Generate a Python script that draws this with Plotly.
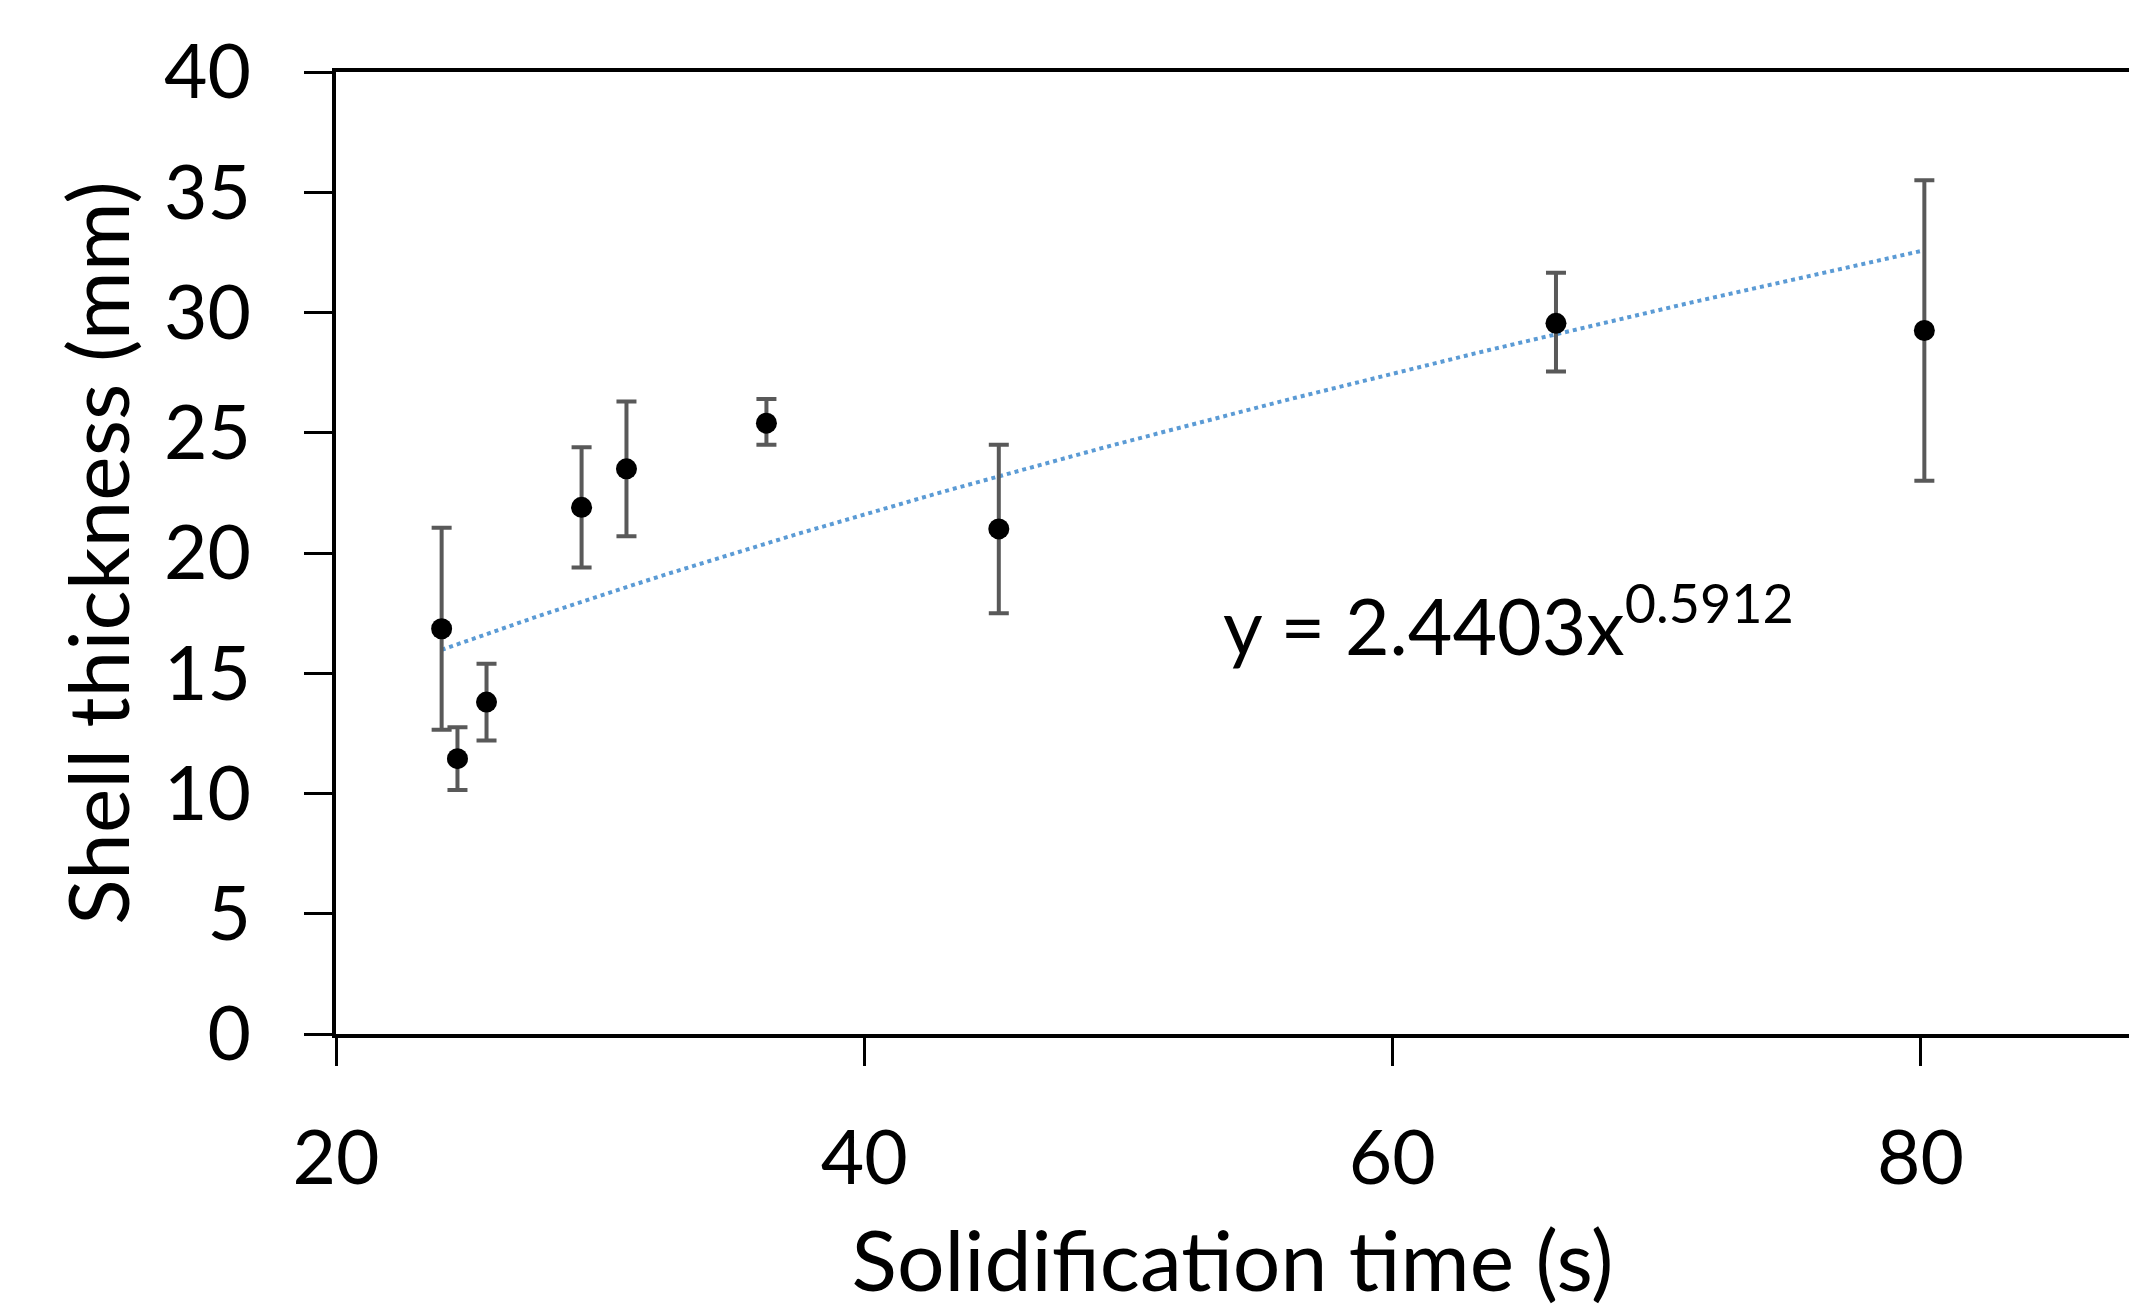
import numpy as np
import plotly.graph_objects as go

# Data
solid_time = [24.0, 24.6, 25.7, 29.3, 31.0, 36.3, 45.1, 66.2, 80.15]
shell_thk = [16.85, 11.45, 13.8, 21.9, 23.5, 25.4, 21.0, 29.55, 29.25]
err_plus = [4.2, 1.3, 1.6, 2.5, 2.8, 1.0, 3.5, 2.1, 6.25]
err_minus = [4.2, 1.3, 1.6, 2.5, 2.8, 0.9, 3.5, 2.0, 6.25]
fit_a = 2.4403
fit_b = 0.5912
x_ticks = [20, 40, 60, 80]
y_ticks = [0, 5, 10, 15, 20, 25, 30, 35, 40]

fit_x = np.linspace(min(solid_time), max(solid_time), 100)
fit_y = fit_a * fit_x ** fit_b

FONT = "Lato"

fig = go.Figure()
fig.add_trace(go.Scatter(
    x=fit_x, y=fit_y, mode="lines",
    line=dict(color="#5B9BD5", width=4, dash="dot"),
    showlegend=False, hoverinfo="skip"))
fig.add_trace(go.Scatter(
    x=solid_time, y=shell_thk, mode="markers",
    marker=dict(color="black", size=21),
    error_y=dict(type="data", array=err_plus, arrayminus=err_minus,
                 color="#595959", thickness=4, width=10),
    showlegend=False))

fig.add_annotation(
    x=64.4, y=17.2, xref="x", yref="y",
    text="y = 2.4403x<sup>0.5912</sup>", showarrow=False,
    font=dict(family=FONT, size=77, color="black"))

fig.update_layout(
    width=2129, height=1309,
    margin=dict(l=336, r=0, t=72, b=275, autoexpand=False),
    paper_bgcolor="white", plot_bgcolor="white",
    font=dict(family=FONT, color="black"),
    xaxis=dict(
        range=[20, 87.9], tickvals=x_ticks, showgrid=False, zeroline=False,
        showline=True, linecolor="black", linewidth=4, mirror=True,
        ticks="outside", ticklen=28, tickwidth=3, tickcolor="black",
        tickfont=dict(size=75, family=FONT), ticklabelstandoff=28,
        automargin=False,
        title=dict(text="Solidification time (s)", font=dict(size=84, family=FONT), standoff=66),
    ),
    yaxis=dict(
        range=[0, 40], tickvals=y_ticks, showgrid=False, zeroline=False,
        showline=True, linecolor="black", linewidth=4,
        ticks="outside", ticklen=28, tickwidth=3, tickcolor="black",
        tickfont=dict(size=75, family=FONT), ticklabelstandoff=38,
        automargin=False,
        title=dict(text="Shell thickness (mm)", font=dict(size=84, family=FONT), standoff=8),
    ),
)

fig.write_html("out.html")
